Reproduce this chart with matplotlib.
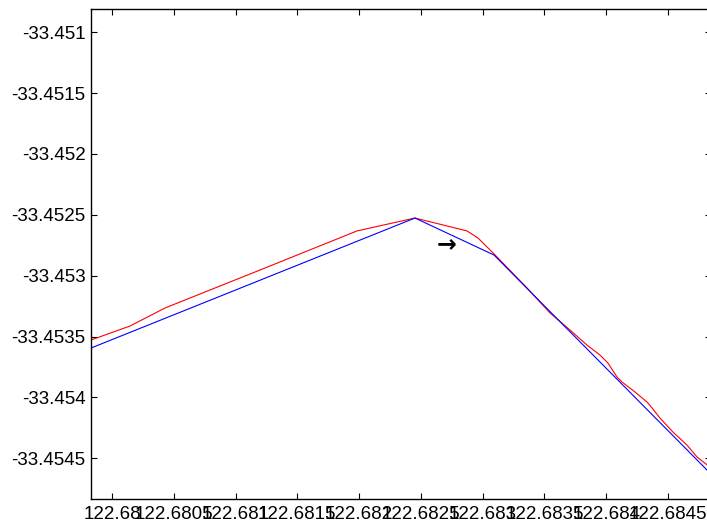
import matplotlib
matplotlib.use("Agg")
import matplotlib.pyplot as plt

plt.rcParams['font.family'] = ['Liberation Sans', 'DejaVu Sans']

# Data
red_x = [122.679830, 122.680146, 122.680429, 122.681198, 122.681983, 122.682452,
         122.682873, 122.682962, 122.683092, 122.683359, 122.683545, 122.683707,
         122.683844, 122.683949, 122.684014, 122.684087, 122.684128, 122.684233,
         122.684330, 122.684370, 122.684435, 122.684540, 122.684654, 122.684735,
         122.684848]
red_y = [-33.453528, -33.453413, -33.453265, -33.452953, -33.452632, -33.452526,
         -33.452632, -33.452690, -33.452821, -33.453101, -33.453306, -33.453446,
         -33.453569, -33.453651, -33.453717, -33.453832, -33.453873, -33.453955,
         -33.454037, -33.454085, -33.454169, -33.454284, -33.454391, -33.454489,
         -33.454579]
blue_x = [122.679830, 122.682452, 122.683092, 122.684848]
blue_y = [-33.453594, -33.452526, -33.452830, -33.454629]

arrow_x = 122.682711
arrow_y = -33.452739

xticks = [122.68, 122.6805, 122.681, 122.6815, 122.682, 122.6825, 122.683,
          122.6835, 122.684, 122.6845]
xtick_labels = ['122.68', '122.6805', '122.681', '122.6815', '122.682', '122.6825',
                '122.683', '122.6835', '122.684', '122.6845']
yticks = [-33.451, -33.4515, -33.452, -33.4525, -33.453, -33.4535, -33.454, -33.4545]
ytick_labels = ['-33.451', '-33.4515', '-33.452', '-33.4525', '-33.453', '-33.4535',
                '-33.454', '-33.4545']

xlim = (122.67983, 122.684848)
ylim = (-33.454834, -33.450809)

W, H = 707, 527
fig = plt.figure(figsize=(W / 100, H / 100), dpi=100)
ax = fig.add_axes([91 / W, (H - 499) / H, (711 - 91) / W, (499 - 9) / H])

ax.plot(red_x, red_y, color='#ff0000', linewidth=0.8)
ax.plot(blue_x, blue_y, color='#0000ff', linewidth=0.8)
ax.text(arrow_x, arrow_y, '→', ha='center', va='center', fontsize=17,
        fontweight='bold', color='black', family=['DejaVu Sans'])

ax.set_xlim(*xlim)
ax.set_ylim(*ylim)
ax.set_xticks(xticks)
ax.set_xticklabels(xtick_labels)
ax.set_yticks(yticks)
ax.set_yticklabels(ytick_labels)
ax.tick_params(direction='in', length=4.3, width=0.8, top=True, right=True,
               labelsize=13.5, colors='black')
ax.tick_params(axis='x', pad=5)
ax.tick_params(axis='y', pad=4)
for s in ax.spines.values():
    s.set_linewidth(1.0)
    s.set_color('black')

fig.savefig('out.png', dpi=100)
